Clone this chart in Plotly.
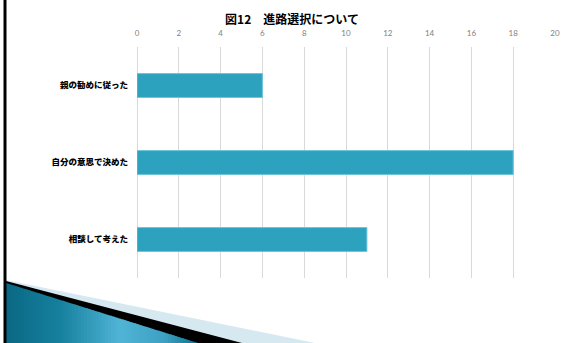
import plotly.graph_objects as go

W, H = 581, 343
categories = ["親の勧めに従った", "自分の意思で決めた", "相談して考えた"]
values = [6, 18, 11]
x_ticks = [0, 2, 4, 6, 8, 10, 12, 14, 16, 18, 20]
title = "図12　進路選択について"

def px(x):
    return x / W

def py(y):
    return 1 - y / H

fig = go.Figure(go.Bar(
    y=categories, x=values, orientation="h",
    marker=dict(color="#2ca2bf", line=dict(color="#6cc4da", width=1)),
    width=0.31,
))

shapes = []
# decorative slide shapes (bottom-left)
shapes.append(dict(type="path", xref="paper", yref="paper",
                   path=f"M {px(6)} {py(280)} L {px(315)} {py(343)} L {px(6)} {py(343)} Z",
                   fillcolor="#d6e9f1", line=dict(width=0), layer="above"))
shapes.append(dict(type="path", xref="paper", yref="paper",
                   path=f"M {px(6)} {py(281)} L {px(242)} {py(343)} L {px(6)} {py(343)} Z",
                   fillcolor="#000000", line=dict(width=0), layer="above"))

# teal gradient approximated by many thin bands
def teal_edge_y(x):
    return 283 + (x - 6) * (343 - 283) / (198 - 6)

def lerp(c0, c1, t):
    return tuple(int(round(a + (b - a) * t)) for a, b in zip(c0, c1))

stops = [(6, (10, 104, 132)), (60, (22, 128, 158)), (120, (80, 180, 214)),
         (165, (60, 160, 194)), (198, (14, 112, 142))]

def color_at(x):
    for (xa, ca), (xb, cb) in zip(stops, stops[1:]):
        if xa <= x <= xb:
            return lerp(ca, cb, (x - xa) / (xb - xa))
    return stops[-1][1]

step = 3
x = 6
while x < 198:
    x0, x1 = x, min(x + step, 198)
    c = color_at((x0 + x1) / 2)
    y0 = teal_edge_y(x0)
    y1 = teal_edge_y(x1)
    shapes.append(dict(type="path", xref="paper", yref="paper",
                       path=f"M {px(x0)} {py(y0)} L {px(x1 + 0.5)} {py(y1)} L {px(x1 + 0.5)} {py(343)} L {px(x0)} {py(343)} Z",
                       fillcolor=f"rgb{c}", line=dict(width=0), layer="above"))
    x += step

# left border line
shapes.append(dict(type="line", xref="paper", yref="paper",
                   x0=px(5), x1=px(5), y0=0, y1=1,
                   line=dict(color="#000000", width=3), layer="above"))

fig.update_layout(
    width=W, height=H,
    margin=dict(l=0, r=0, t=0, b=0),
    paper_bgcolor="white", plot_bgcolor="white",
    showlegend=False,
    title=dict(text=f"<b>{title}</b>", x=px(292), y=py(20), xanchor="center", yanchor="middle",
               xref="paper", yref="paper",
               font=dict(family="Noto Sans CJK JP", size=12, color="#000000")),
    xaxis=dict(domain=[px(137), px(555)], range=[0, 20], side="top",
               tickvals=x_ticks, ticktext=[str(t) for t in x_ticks],
               showgrid=True, gridcolor="#d9d9d9", gridwidth=1,
               zeroline=True, zerolinecolor="#d9d9d9", zerolinewidth=1,
               showline=False, ticks="", ticklabelstandoff=8,
               tickfont=dict(family="Lato", size=8, color="#808080"),
               automargin=False, fixedrange=True),
    yaxis=dict(domain=[py(278), py(47)], categoryorder="array", categoryarray=categories[::-1],
               showgrid=False, zeroline=False, showline=False, ticks="",
               ticklabelstandoff=8,
               tickfont=dict(family="Noto Sans CJK JP", size=8.5, color="#000000", weight=900),
               automargin=False, fixedrange=True),
    shapes=shapes,
)

fig.write_html("out.html")
